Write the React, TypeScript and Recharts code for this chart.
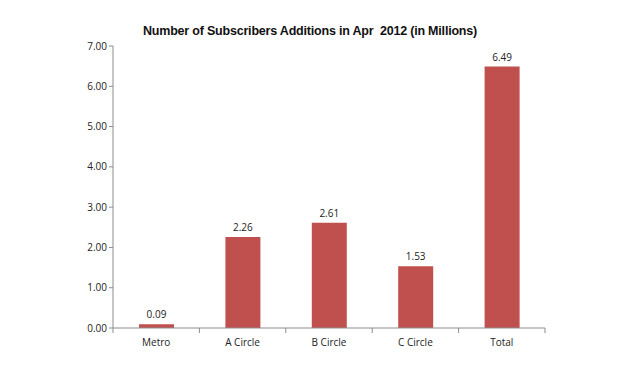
import { Bar, BarChart, LabelList, XAxis, YAxis } from "recharts";

const categories = ["Metro", "A Circle", "B Circle", "C Circle", "Total"];
const additions = [0.09, 2.26, 2.61, 1.53, 6.49];
const yTicks = [0, 1, 2, 3, 4, 5, 6, 7];

const data = categories.map((name, i) => ({ name, value: additions[i] }));

const chartWidth = 620;
const chartHeight = 367;
const yAxisWidth = 50;
const margin = { top: 46, right: 75, bottom: 14, left: 63 };
const bandWidth = (chartWidth - margin.left - margin.right - yAxisWidth) / categories.length;

function CategoryTick(props: any) {
  const { x, y, payload, index } = props;
  const half = bandWidth / 2;
  return (
    <g>
      <line x1={x + half} x2={x + half} y1={y - 8} y2={y - 3} stroke="#8c8c8c" />
      {index === 0 && <line x1={x - half} x2={x - half} y1={y - 8} y2={y - 3} stroke="#8c8c8c" />}
      <text x={x} y={y + 10} textAnchor="middle" fontSize={10} fill="#222">
        {payload.value}
      </text>
    </g>
  );
}

export default function App() {
  return (
    <div style={{ position: "absolute", left: 0, top: 0, width: chartWidth, height: chartHeight, background: "#fff", fontFamily: "'Open Sans', sans-serif" }}>
      <div
        style={{
          position: "absolute",
          top: 24,
          left: 0,
          width: 620,
          textAlign: "center",
          fontFamily: "'Liberation Sans', Arial, sans-serif",
          fontWeight: "bold",
          fontSize: 12.5,
          color: "#111",
          letterSpacing: -0.2,
        }}
      >
        Number of Subscribers Additions in Apr&nbsp; 2012 (in Millions)
      </div>
      <BarChart width={chartWidth} height={chartHeight} data={data} margin={margin} barSize={35}>
        <XAxis
          dataKey="name"
          axisLine={{ stroke: "#8c8c8c" }}
          tickLine={false}
          tick={<CategoryTick />}
          interval={0}
          height={25}
        />
        <YAxis
          domain={[0, 7]}
          ticks={yTicks}
          tickFormatter={(v: number) => v.toFixed(2)}
          axisLine={{ stroke: "#8c8c8c" }}
          tickLine={{ stroke: "#8c8c8c" }}
          tickSize={4}
          width={yAxisWidth}
          tick={{ fontSize: 10, fill: "#222" }}
        />
        <Bar dataKey="value" fill="#c0504d" isAnimationActive={false}>
          <LabelList
            dataKey="value"
            position="top"
            offset={6}
            formatter={(v: any) => Number(v).toFixed(2)}
            style={{ fontSize: 10, fill: "#222" }}
          />
        </Bar>
      </BarChart>
    </div>
  );
}
